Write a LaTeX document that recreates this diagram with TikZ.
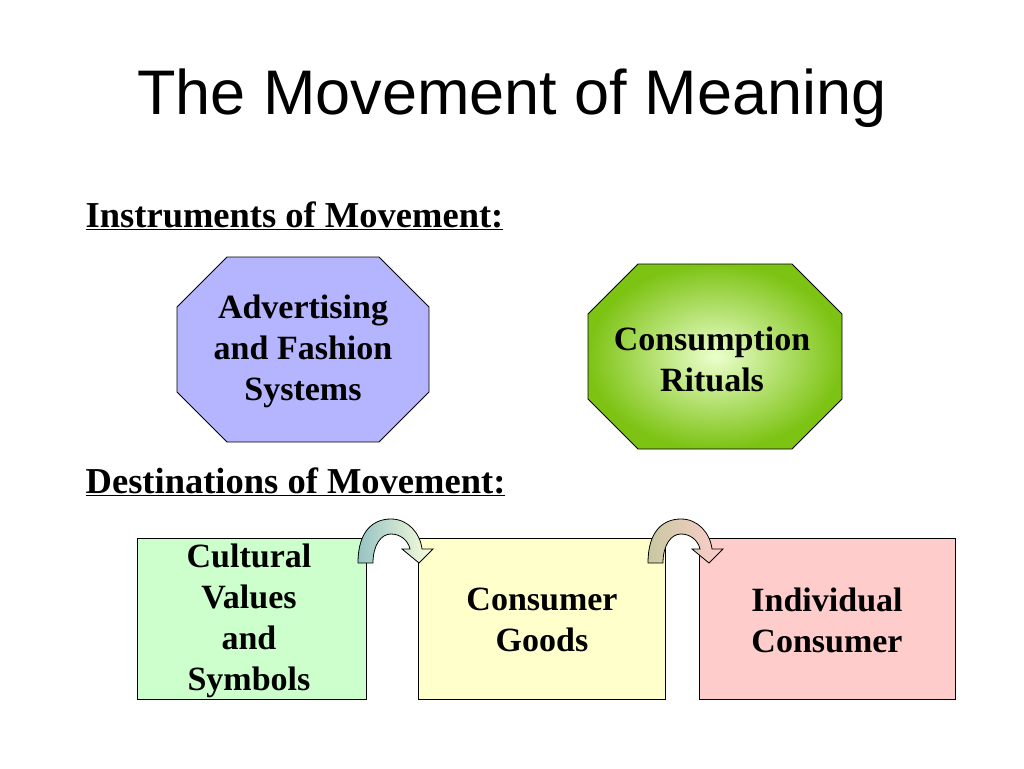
\documentclass[tikz,border=0pt]{standalone}
\usepackage{fontspec}
\setmainfont{Liberation Serif}
\newfontfamily\titlefont{Liberation Sans}
\usepackage{tikz}
\definecolor{oct_blue}{RGB}{180,180,255}
\definecolor{oct_green_in}{RGB}{235,255,205}
\definecolor{oct_green_out}{RGB}{125,195,20}
\definecolor{box_green}{RGB}{204,255,204}
\definecolor{box_yellow}{RGB}{255,255,204}
\definecolor{box_pink}{RGB}{255,204,204}
\definecolor{arr_teal}{RGB}{150,195,195}
\definecolor{arr_olive}{RGB}{200,200,160}
\definecolor{arr_pale}{RGB}{250,255,220}
\definecolor{arr_pink}{RGB}{255,205,205}

\newcommand{\octagon}[5]{% x1,y1,x2,y2,cut
  (#1+#5,#2) -- (#3-#5,#2) -- (#3,#2+#5) -- (#3,#4-#5) -- (#3-#5,#4) -- (#1+#5,#4) -- (#1,#4-#5) -- (#1,#2+#5) -- cycle}
\newcommand{\bendarrow}[1]{% left x
  (#1,563) .. controls (#1,530) and (#1+16,519) .. (#1+33,519)
  .. controls (#1+50,519) and (#1+62,533) .. (#1+64,549)
  -- (#1+75,549) -- (#1+61,563) -- (#1+44,549) -- (#1+52,549)
  .. controls (#1+50,540) and (#1+42,534) .. (#1+33,534)
  .. controls (#1+23,534) and (#1+15,545) .. (#1+15,563) -- cycle}

\begin{document}
\begin{tikzpicture}[x=1pt,y=-1pt,thick]
    \tikzstyle{heading}=[anchor=west, font=\fontsize{36.5}{40}\selectfont\bfseries]
    \tikzstyle{label}=[align=center, font=\fontsize{34}{41}\selectfont\bfseries]
    \tikzstyle{box}=[draw=black]
    \useasboundingbox (0,0) rectangle (1024,768);

    \node[font=\titlefont\fontsize{63}{70}\selectfont] (title) at (512,98) {The Movement of Meaning};

    \node[heading] (instr) at (82,216) {\underline{Instruments of Movement:}};
    \node[heading] (dest) at (82,482) {\underline{Destinations of Movement:}};

    % instruments
    \draw[box, fill=oct_blue] \octagon{177}{257}{429}{442}{50};
    \shade[inner color=oct_green_in, outer color=oct_green_out] \octagon{588}{264}{842}{449}{50};
    \draw[box] \octagon{588}{264}{842}{449}{50};
    \node[label] (adv) at (303,351) {Advertising\\and Fashion\\Systems};
    \node[label] (rit) at (712,359) {Consumption\\Rituals};

    % destinations
    \draw[box, fill=box_green]  (137,538) rectangle (366,699);
    \draw[box, fill=box_yellow] (418,538) rectangle (665,699);
    \draw[box, fill=box_pink]   (699,538) rectangle (955,699);
    \node[label] (cult) at (249,621) {Cultural\\Values\\and\\Symbols};
    \node[label] (goods) at (542,620) {Consumer\\Goods};
    \node[label] (indiv) at (827,620) {Individual\\Consumer};

    \shade[left color=arr_teal, right color=arr_pale] \bendarrow{358};
    \draw[box] \bendarrow{358};
    \shade[left color=arr_olive, right color=arr_pink] \bendarrow{648};
    \draw[box] \bendarrow{648};
\end{tikzpicture}
\end{document}
